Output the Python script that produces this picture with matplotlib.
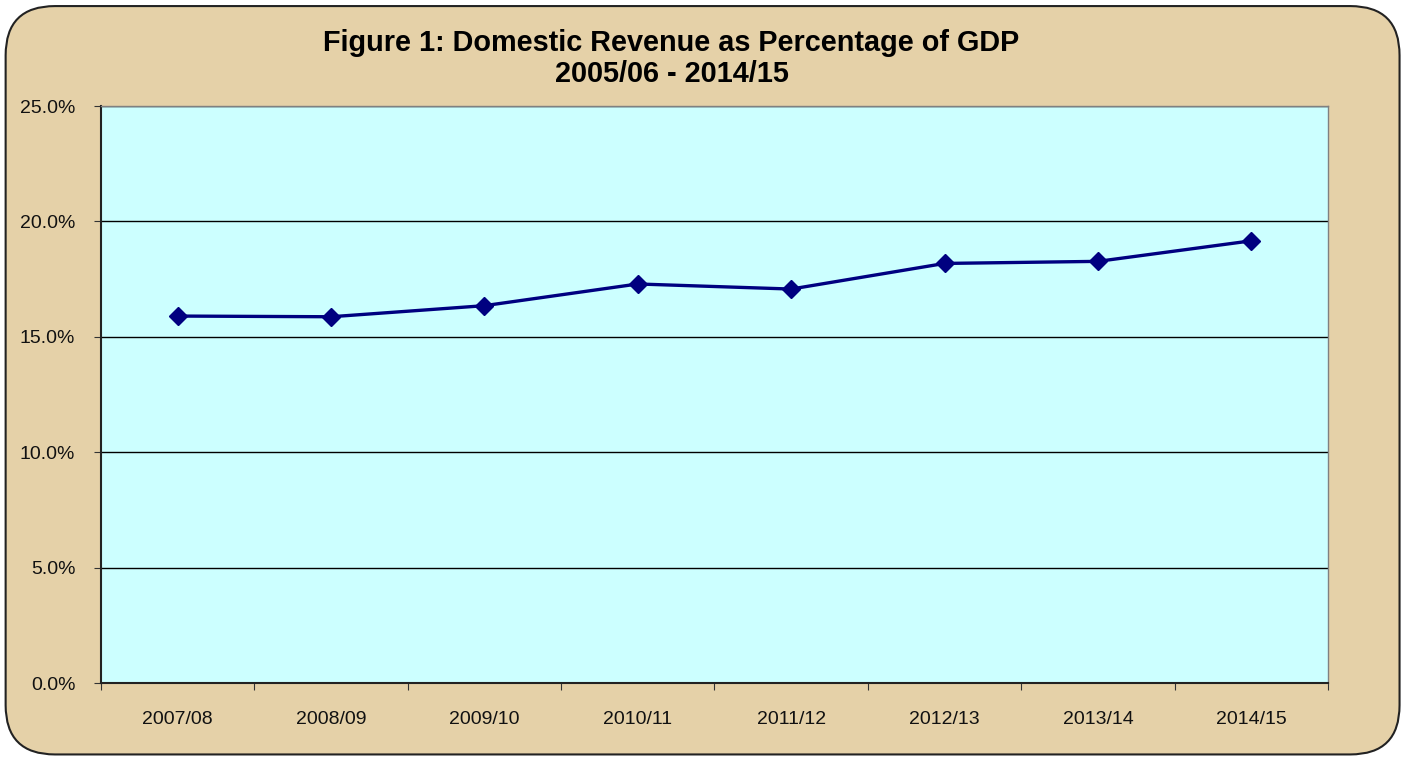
#!/usr/bin/env python3
"""Domestic revenue as a share of GDP, Excel-style line chart."""

import matplotlib

matplotlib.use('Agg')
import matplotlib.pyplot as plt
from matplotlib.patches import FancyBboxPatch
from matplotlib.ticker import FuncFormatter

years = ['2007/08', '2008/09', '2009/10', '2010/11',
         '2011/12', '2012/13', '2013/14', '2014/15']
revenue_pct = [15.9, 15.87, 16.35, 17.29, 17.07, 18.18, 18.27, 19.16]
y_ticks = [0, 5, 10, 15, 20, 25]


def main():
    plt.rcParams['font.family'] = ['Liberation Sans', 'DejaVu Sans']

    fig = plt.figure(figsize=(14.08, 7.59), dpi=100)
    fig.patch.set_facecolor('white')
    frame = FancyBboxPatch((0.004, 0.006), 0.99, 0.986,
                           boxstyle='round,pad=0,rounding_size=0.035',
                           transform=fig.transFigure, facecolor='#E5D1A8',
                           edgecolor='#222222', linewidth=1.5,
                           mutation_aspect=1408 / 759, zorder=-5)
    fig.patches.append(frame)

    ax = fig.add_axes([0.0717, 0.1001, 0.8715, 0.7602])
    ax.set_facecolor('#CCFFFF')

    x = [i + 0.5 for i in range(len(years))]
    ax.plot(x, revenue_pct, color='#000080', linewidth=2.4,
            marker='D', markersize=9, zorder=3)

    ax.set_xlim(0, len(years))
    ax.set_ylim(0, 25)
    ax.set_yticks(y_ticks)
    ax.yaxis.set_major_formatter(FuncFormatter(lambda v, _: f'{v:.1f}%'))
    ax.set_xticks(range(len(years) + 1))
    ax.set_xticklabels([])
    ax.set_xticks(x, minor=True)
    ax.set_xticklabels(years, minor=True)
    ax.tick_params(axis='x', which='minor', length=0, pad=20, labelsize=14,
                   colors='#111111')
    ax.tick_params(axis='x', which='major', direction='out', length=5,
                   color='#333333')
    ax.tick_params(axis='y', direction='out', length=5, pad=13.5,
                   labelsize=14, colors='#111111', color='#333333')

    ax.grid(axis='y', color='black', linewidth=1.0, zorder=1)
    ax.set_axisbelow(True)
    for side in ('left', 'bottom'):
        ax.spines[side].set_color('#222222')
        ax.spines[side].set_linewidth(1.5)
    for side in ('top', 'right'):
        ax.spines[side].set_color('#808080')
        ax.spines[side].set_linewidth(1.0)

    fig.text(0.477, 0.943, 'Figure 1: Domestic Revenue as Percentage of GDP',
             ha='center', va='center', fontsize=20.8, fontweight='bold')
    fig.text(0.477, 0.902, '2005/06 - 2014/15', ha='center', va='center',
             fontsize=20.8, fontweight='bold')

    fig.savefig('out.png', dpi=100)


if __name__ == '__main__':
    main()
